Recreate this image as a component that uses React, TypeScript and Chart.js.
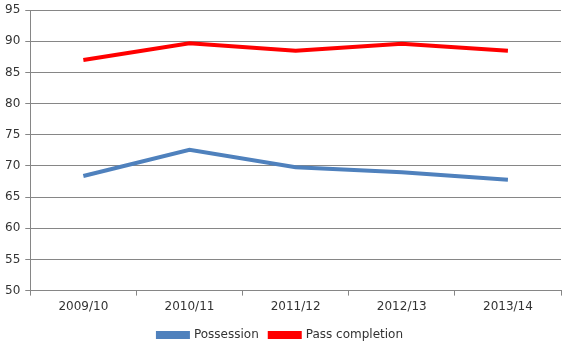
import React, { useEffect, useRef } from "react";
import { Chart, registerables } from "chart.js";

Chart.register(...registerables);

const categories = ["2009/10", "2010/11", "2011/12", "2012/13", "2013/14"];
const possession = [68.4, 72.6, 69.8, 69.0, 67.8];
const passCompletion = [87.0, 89.7, 88.5, 89.6, 88.5];
const yTicks = { min: 50, max: 95, step: 5 };

const FONT = "'DejaVu Sans', sans-serif";

export default function App() {
  const ref = useRef<HTMLCanvasElement>(null);
  useEffect(() => {
    document.body.style.margin = "0";
    const ctx = ref.current!;
    const chart = new Chart(ctx, {
      type: "line",
      data: {
        labels: categories,
        datasets: [
          {
            label: "Possession",
            data: possession,
            borderColor: "#4F81BD",
            backgroundColor: "#4F81BD",
            borderWidth: 4,
            pointRadius: 0,
            tension: 0,
          },
          {
            label: "Pass completion",
            data: passCompletion,
            borderColor: "#FF0000",
            backgroundColor: "#FF0000",
            borderWidth: 4,
            pointRadius: 0,
            tension: 0,
          },
        ],
      },
      options: {
        animation: false,
        responsive: false,
        layout: { padding: { top: 0, right: 12, left: 0, bottom: 0 } },
        plugins: {
          tooltip: { enabled: false },
          legend: {
            position: "bottom",
            labels: {
              boxWidth: 30,
              boxHeight: 4,
              padding: 11,
              color: "#333",
              font: { family: FONT, size: 12 },
            },
          },
        },
        scales: {
          x: {
            offset: true,
            grid: {
              offset: true,
              drawOnChartArea: false,
              drawTicks: true,
              tickLength: 5,
              color: "#868686",
            },
            border: { display: true, color: "#868686" },
            ticks: { color: "#333", font: { family: FONT, size: 12 }, padding: 4 },
          },
          y: {
            min: yTicks.min,
            max: yTicks.max,
            ticks: {
              stepSize: yTicks.step,
              color: "#333",
              font: { family: FONT, size: 12 },
              padding: 5,
            },
            grid: { color: "#868686", tickLength: 5 },
            border: { display: true, color: "#868686" },
          },
        },
      },
    });
    return () => chart.destroy();
  }, []);
  return (
    <canvas
      ref={ref}
      width={573}
      height={353}
      style={{ display: "block", marginTop: -2 }}
    />
  );
}
